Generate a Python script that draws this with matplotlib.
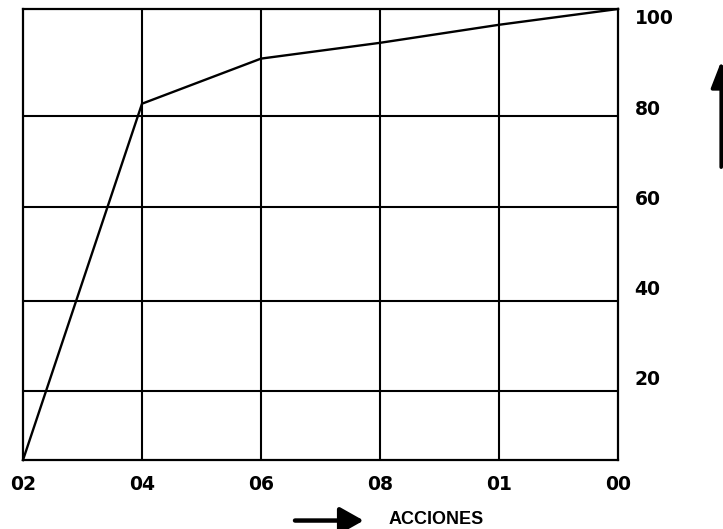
import matplotlib
matplotlib.use('Agg')
import matplotlib.pyplot as plt
import matplotlib.transforms as mtransforms

# hand drawn chart: percent of actions, cumulative
x_labels = ['02', '04', '06', '08', '01', '00']
cumulative = [0, 79, 89, 92.5, 96.5, 100]
y_ticks = [20, 40, 60, 80, 100]
y_tick_labels = ['20', '40', '60', '80', '100']
grid_rows = [15.3, 35.3, 56.1, 76.3]   # rows drawn in the sketch (not at the labels)
x_title = 'ACCIONES'

font = {'family': 'DejaVu Sans', 'size': 13.5, 'weight': 'bold'}
matplotlib.rc('font', **font)

fig = plt.figure(figsize=(7.23, 5.29), dpi=100)
ax = fig.add_axes([0.0318, 0.1304, 0.8230, 0.8526])

xs = list(range(len(x_labels)))
ax.plot(xs, cumulative, color='black', linewidth=1.7, zorder=3, clip_on=False)

for x in xs[1:-1]:
    ax.axvline(x, color='black', linewidth=1.5, zorder=1)
for y in grid_rows:
    ax.axhline(y, color='black', linewidth=1.5, zorder=1)

ax.set_xlim(xs[0], xs[-1])
ax.set_ylim(0, 100)
for s in ax.spines.values():
    s.set_linewidth(1.6)

ax.set_xticks(xs)
ax.set_xticklabels(x_labels)
ax.tick_params(axis='x', length=0, pad=11)

ax.yaxis.tick_right()
ax.set_yticks(y_ticks)
ax.set_yticklabels(y_tick_labels)
ax.tick_params(axis='y', length=0, pad=12)
off = mtransforms.ScaledTranslation(0, -8 / 100, fig.dpi_scale_trans)
for lab in ax.get_yticklabels():
    lab.set_transform(lab.get_transform() + off)

# arrows and axis title
fig.patches.append(matplotlib.patches.FancyArrowPatch(
    (0.408, 0.016), (0.503, 0.016), transform=fig.transFigure,
    arrowstyle='-|>,head_length=0.8,head_width=0.45', mutation_scale=18,
    linewidth=3.2, color='black', shrinkA=0, shrinkB=0))
fig.patches.append(matplotlib.patches.FancyArrowPatch(
    (0.9975, 0.684), (0.9975, 0.884), transform=fig.transFigure,
    arrowstyle='-|>,head_length=0.9,head_width=0.35', mutation_scale=18,
    linewidth=2.6, color='black', shrinkA=0, shrinkB=0))
fig.text(0.603, 0.018, x_title, ha='center', va='center',
         family=['Liberation Sans', 'DejaVu Sans'], fontsize=13, weight='bold')

plt.savefig('out.png', dpi=100)
